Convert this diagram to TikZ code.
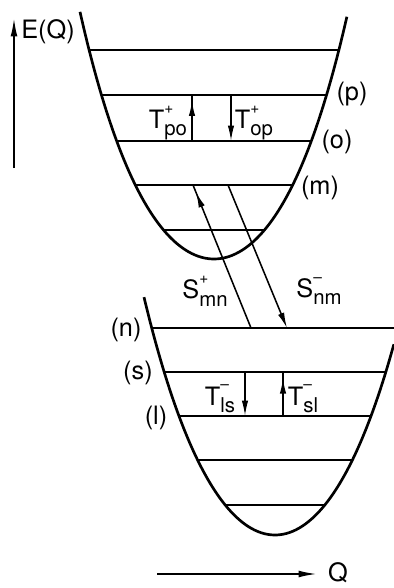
\documentclass[tikz,border=0pt]{standalone}
\usepackage{fontspec}
\setmainfont{TeX Gyre Heros}
\usetikzlibrary{arrows.meta, decorations.markings}
% rate label: letter, sign above, indices below
\newcommand{\rate}[3]{#1\rlap{\raisebox{0.6em}{\fontsize{11}{11}\selectfont #2}}%
  \raisebox{-0.3em}{\fontsize{14.5}{15}\selectfont #3}}
\tikzset{
  well/.style={line width=1.9pt},
  rung/.style={line width=1.1pt},
  trans/.style={line width=1.1pt},
  arrDown/.style={trans, -{Latex[length=11pt, width=4.6pt]}},
  arrUp/.style={trans, postaction={decorate},
    decoration={markings, mark=at position #1 with {\arrow{Latex[length=11pt, width=4.6pt]}}}},
  qaxis/.style={line width=1.3pt, -{Latex[length=13pt, width=4.8pt]}},
  lbl/.style={font=\fontsize{18}{20}\selectfont, inner sep=0pt},
  declare function={hwU(\d)=100*sqrt((-110+10*sqrt(121+0.616*\d))/30.8);
                    hwL(\d)=100*sqrt((-118+10*sqrt(139.24+0.48*\d))/24);}
}
\begin{document}
\begin{tikzpicture}[x=0.025cm, y=-0.025cm]
    \useasboundingbox (0,0) rectangle (394,588);
    % upper well
    \draw[well] plot[domain=-1.34:1.33, samples=80, smooth]
      ({214+100*\x},{259-110*\x*\x-15.4*\x*\x*\x*\x});
    \foreach \y in {50,95,141,185,230}
      \draw[rung] ({214-hwU(259-\y)},\y) -- ({214+hwU(259-\y)},\y);
    % lower well
    \draw[well] plot[domain=-1.31:1.19, samples=80, smooth]
      ({275+100*\x},{535-118*\x*\x-12*\x*\x*\x*\x});
    \draw[rung] ({275-hwL(207)},328) -- (394,328);
    \foreach \y in {372,416,460,505}
      \draw[rung] ({275-hwL(535-\y)},\y) -- ({275+hwL(535-\y)},\y);
    % transitions
    \coordinate (po1) at (192,141);
    \coordinate (po2) at (192,95);
    \coordinate (op1) at (231,95);
    \coordinate (op2) at (231,141);
    \coordinate (mn1) at (251,328);
    \coordinate (mn2) at (193,185);
    \coordinate (nm1) at (228,185);
    \coordinate (nm2) at (287,328);
    \coordinate (ls1) at (245,372);
    \coordinate (ls2) at (245,416);
    \coordinate (sl1) at (283,416);
    \coordinate (sl2) at (283,372);
    \draw[arrUp=0.88] (po1) -- (po2);
    \draw[arrDown] (op1) -- (op2);
    \draw[arrUp=0.95] (mn1) -- (mn2);
    \draw[arrDown] (nm1) -- (nm2);
    \draw[arrDown] (ls1) -- (ls2);
    \draw[arrUp=0.86] (sl1) -- (sl2);
    % axes
    \coordinate (e0) at (14,168);
    \coordinate (e1) at (14,18);
    \coordinate (q0) at (157,574);
    \coordinate (q1) at (317,574);
    \draw[qaxis] (e0) -- (e1);
    \draw[qaxis] (q0) -- (q1);
    % labels
    \node[lbl] (eq) at (48,32) {E(Q)};
    \node[lbl] (q) at (338,573) {Q};
    \node[lbl] (lp) at (352,94) {(p)};
    \node[lbl] (lo) at (337,142) {(o)};
    \node[lbl] (lm) at (320,188) {(m)};
    \node[lbl] (ln) at (126,330) {(n)};
    \node[lbl] (ls) at (138,373) {(s)};
    \node[lbl] (ll) at (156,418) {(l)};
    \node[lbl] (tpo) at (168,123) {\rate{T}{+}{po}};
    \node[lbl] (top) at (254,123) {\rate{T}{+}{op}};
    \node[lbl] (smn) at (205,291) {\rate{S}{+}{mn}};
    \node[lbl] (snm) at (319,291) {\rate{S}{–}{nm}};
    \node[lbl] (tls) at (220,399) {\rate{T}{–}{ls}};
    \node[lbl] (tsl) at (303,399) {\rate{T}{–}{sl}};
\end{tikzpicture}
\end{document}
